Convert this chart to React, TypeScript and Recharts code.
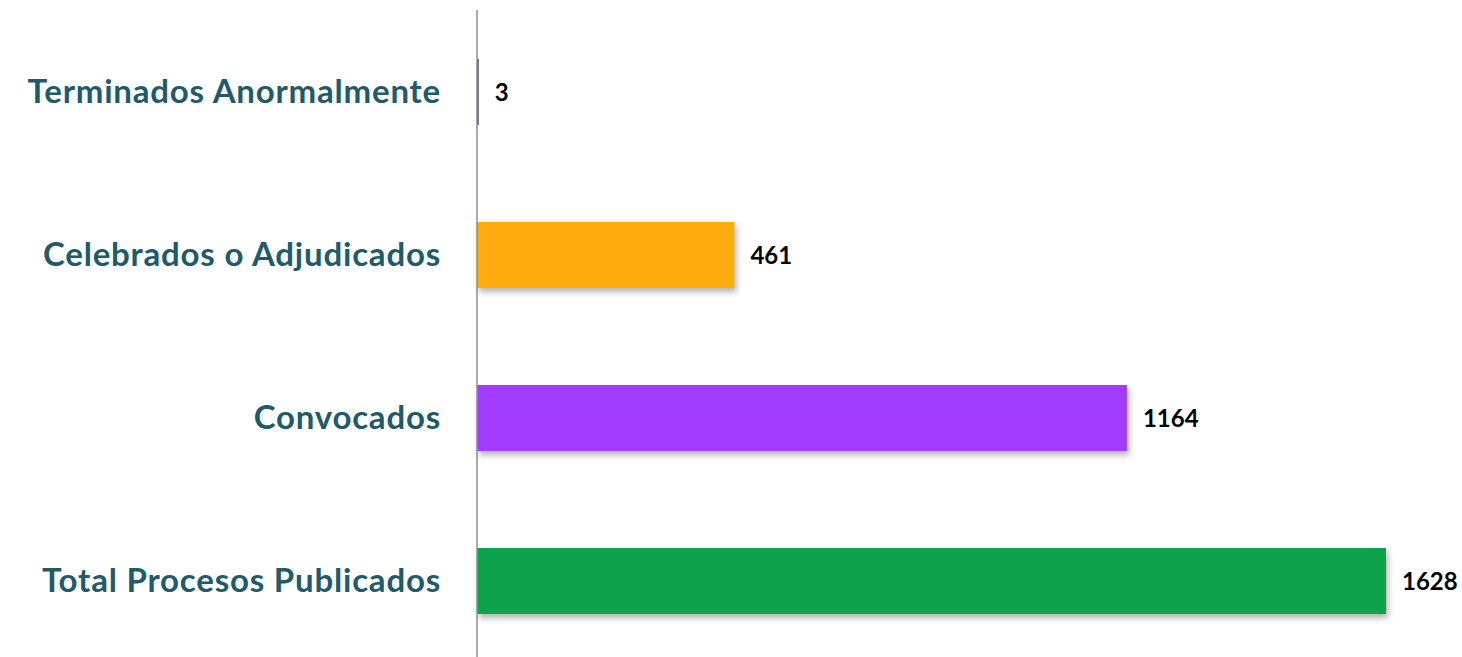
import React from 'react';
import { BarChart, Bar, XAxis, YAxis, Cell, LabelList } from 'recharts';

const categories = [
  'Terminados Anormalmente',
  'Celebrados o Adjudicados',
  'Convocados',
  'Total Procesos Publicados',
];
const values = [3, 461, 1164, 1628];
const barColors = ['#2E4A6E', '#FFAA0A', '#A23EFF', '#07A24B'];

const data = categories.map((name, i) => ({ name, value: values[i] }));

const App: React.FC = () => {
  return (
    <div style={{ width: 1462, height: 662, background: '#fff' }}>
      <style>{`body{margin:0;}`}</style>
      <BarChart
        width={1462}
        height={662}
        data={data}
        layout="vertical"
        margin={{ top: 10, right: 76, bottom: 0, left: 0 }}
      >
        <defs>
          <filter id="barShadow" x="-5%" y="-20%" width="115%" height="150%">
            <feDropShadow dx="2" dy="4" stdDeviation="3" floodColor="#000" floodOpacity="0.3" />
          </filter>
        </defs>
        <XAxis type="number" domain={[0, 1628]} hide />
        <YAxis
          type="category"
          dataKey="name"
          width={477}
          axisLine={{ stroke: '#8C8C8C', strokeWidth: 1.5 }}
          tickLine={false}
          tickSize={0}
          tickMargin={36}
          tick={{
            fill: '#215A6A',
            fontSize: 33,
            fontWeight: 700,
            fontFamily: 'Lato',
            letterSpacing: 0.8,
          }}
        />
        <Bar dataKey="value" barSize={66} isAnimationActive={false}>
          {data.map((d, i) => (
            <Cell key={d.name} fill={barColors[i]} filter="url(#barShadow)" />
          ))}
          <LabelList
            dataKey="value"
            position="right"
            offset={16}
            fill="#000"
            style={{ fontSize: 24, fontWeight: 700, fontFamily: 'Lato' }}
          />
        </Bar>
      </BarChart>
    </div>
  );
};

export default App;
